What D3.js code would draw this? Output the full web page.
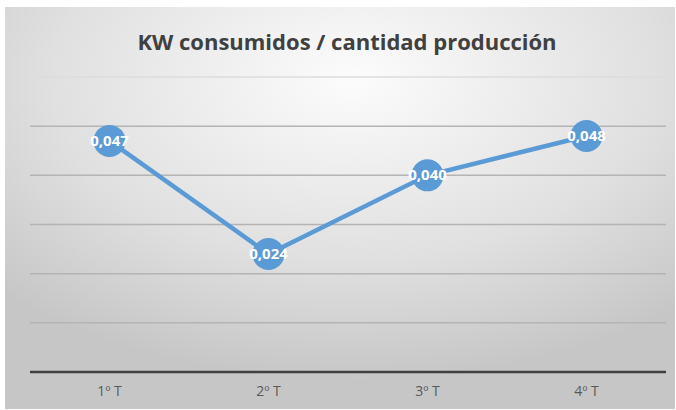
<!DOCTYPE html>
<html lang="es">
<head>
	<meta charset="UTF-8">
	<title>KW consumidos / cantidad producción</title>
	<script src="https://d3js.org/d3.v7.min.js"></script>
	<style>
		body { margin: 0; background: #fff; }
		svg { display: block; }
	</style>
</head>
<body>
	<script>
		var categories = ["1º T", "2º T", "3º T", "4º T"];
		var values = [0.047, 0.024, 0.040, 0.048];
		var yTicks = [0, 0.01, 0.02, 0.03, 0.04, 0.05, 0.06];
		var title = "KW consumidos / cantidad producción";

		var w = 676, h = 410;
		var plotLeft = 30, plotRight = 666, plotTop = 77, plotBottom = 372;

		var svg = d3.select("body").append("svg")
			.attr("width", w)
			.attr("height", h);

		// fondo degradado
		var defs = svg.append("defs");
		var grad = defs.append("radialGradient")
			.attr("id", "bg")
			.attr("cx", "52%").attr("cy", "18%")
			.attr("r", "75%");
		grad.append("stop").attr("offset", "0%").attr("stop-color", "#fcfcfc");
		grad.append("stop").attr("offset", "60%").attr("stop-color", "#e0e0e0");
		grad.append("stop").attr("offset", "100%").attr("stop-color", "#c6c6c6");

		svg.append("rect")
			.attr("x", 5).attr("y", 7)
			.attr("width", 670).attr("height", 402)
			.attr("fill", "url(#bg)");

		var x = d3.scaleBand()
			.domain(categories)
			.range([plotLeft, plotRight]);

		var y = d3.scaleLinear()
			.domain([0, 0.06])
			.range([plotBottom, plotTop]);

		// lineas de cuadricula
		svg.append("g")
			.selectAll("line")
			.data(yTicks.filter(function(d){ return d > 0; }))
			.enter().append("line")
			.attr("x1", plotLeft).attr("x2", plotRight)
			.attr("y1", function(d){ return y(d); })
			.attr("y2", function(d){ return y(d); })
			.attr("stroke", function(d){ return d === 0.06 ? "#dcdcdc" : "#b4b4b4"; })
			.attr("stroke-width", 1.5);

		// eje x
		svg.append("line")
			.attr("x1", plotLeft).attr("x2", plotRight)
			.attr("y1", y(0)).attr("y2", y(0))
			.attr("stroke", "#404040")
			.attr("stroke-width", 2.5);

		var xAxis = svg.append("g")
			.attr("transform", "translate(0," + y(0) + ")")
			.call(d3.axisBottom(x).tickSize(0).tickPadding(14));
		xAxis.select(".domain").remove();
		xAxis.selectAll("text")
			.attr("fill", "#595959")
			.style("font-family", "'Open Sans', sans-serif")
			.style("font-size", "14px");

		// linea
		var line = d3.line()
			.x(function(d, i){ return x(categories[i]) + x.bandwidth() / 2; })
			.y(function(d){ return y(d); });

		svg.append("path")
			.datum(values)
			.attr("d", line)
			.attr("fill", "none")
			.attr("stroke", "#5b9bd5")
			.attr("stroke-width", 4.5);

		svg.append("g")
			.selectAll("circle")
			.data(values)
			.enter().append("circle")
			.attr("cx", function(d, i){ return x(categories[i]) + x.bandwidth() / 2; })
			.attr("cy", function(d){ return y(d); })
			.attr("r", 16)
			.attr("fill", "#5b9bd5");

		svg.append("g")
			.selectAll("text")
			.data(values)
			.enter().append("text")
			.attr("x", function(d, i){ return x(categories[i]) + x.bandwidth() / 2; })
			.attr("y", function(d){ return y(d) + 5; })
			.attr("text-anchor", "middle")
			.attr("fill", "#fff")
			.style("font-family", "'Open Sans', sans-serif")
			.style("font-size", "15px")
			.style("font-weight", "bold")
			.text(function(d){ return d.toFixed(3).replace(".", ","); });

		// titulo
		svg.append("text")
			.attr("x", 347).attr("y", 50)
			.attr("text-anchor", "middle")
			.attr("fill", "#404040")
			.style("font-family", "'Open Sans', sans-serif")
			.style("font-size", "22px")
			.style("font-weight", "bold")
			.text(title);
	</script>
</body>
</html>
